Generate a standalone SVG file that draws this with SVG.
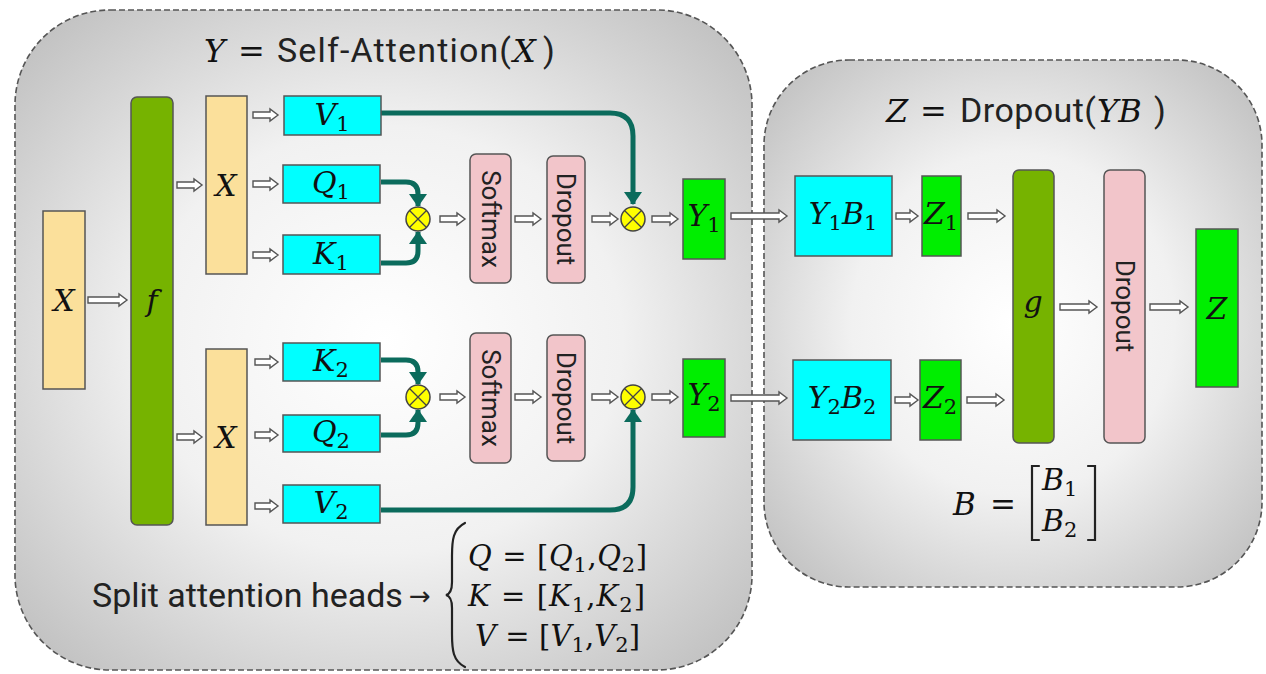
<svg xmlns="http://www.w3.org/2000/svg" width="1266" height="674" viewBox="0 0 1266 674">
  <defs>
    <radialGradient id="panelFill" cx="0.5" cy="0.5" r="0.72">
      <stop offset="0" stop-color="#ffffff"/>
      <stop offset="0.45" stop-color="#f1f1f1"/>
      <stop offset="1" stop-color="#b9b9b9"/>
    </radialGradient>
    <marker id="tealHead" markerUnits="userSpaceOnUse" markerWidth="18" markerHeight="18" refX="12" refY="9" orient="auto">
      <path d="M0,0 L13,9 L0,18 Z" fill="#0b6b5c"/>
    </marker>
    <style>
      .panel { fill: url(#panelFill); stroke: #555; stroke-width: 1.6; stroke-dasharray: 6 3; }
      .tan { fill: #fbe09b; stroke: #555; stroke-width: 1.5; }
      .olive { fill: #76b300; stroke: #555; stroke-width: 1.5; }
      .cyan { fill: #00ffff; stroke: #555; stroke-width: 1.5; }
      .lime { fill: #00ee00; stroke: #555; stroke-width: 1.5; }
      .pink { fill: #f2c5ca; stroke: #555; stroke-width: 1.5; }
      .mul circle { fill: #ffff00; stroke: #444; stroke-width: 1.5; }
      .mul path { stroke: #444; stroke-width: 1.3; fill: none; }
      .ha { fill: #ffffff; stroke: #555; stroke-width: 1.4; stroke-linejoin: miter; }
      .teal { fill: none; stroke: #0b6b5c; stroke-width: 5; marker-end: url(#tealHead); }
      .m { font-family: "DejaVu Serif", "Liberation Serif", serif; font-style: italic; fill: #111; }
      .up { font-style: normal; }
      .sub { font-style: normal; font-size: 21px; }
      .sans { font-family: Roboto, "Liberation Sans", sans-serif; fill: #222; }
      .lbl { font-size: 30px; text-anchor: middle; }
      .vt { font-family: Roboto, "Liberation Sans", sans-serif; font-size: 26px; fill: #222; text-anchor: middle; dominant-baseline: central; }
      .brace { fill: none; stroke: #222; stroke-width: 2.2; stroke-linecap: round; }
    </style>
  </defs>

  <rect width="1266" height="674" fill="#ffffff"/>

  <!-- containers -->
  <g id="panel-self-attention">
    <rect class="panel" x="15" y="10" width="737" height="660" rx="95"/>
    <text y="62" font-size="32"><tspan class="m" x="204">Y</tspan><tspan class="m up" x="238">=</tspan><tspan class="sans" x="277" font-size="34" textLength="234" lengthAdjust="spacing">Self-Attention(</tspan><tspan class="m" x="513">X</tspan><tspan class="sans" x="543" font-size="34">)</tspan></text>
  </g>
  <g id="panel-dropout">
    <rect class="panel" x="764" y="60" width="498" height="527" rx="85"/>
    <text y="122" font-size="32"><tspan class="m" x="886">Z</tspan><tspan class="m up" x="920">=</tspan><tspan class="sans" x="960" font-size="34" textLength="136" lengthAdjust="spacing">Dropout(</tspan><tspan class="m" x="1097">YB</tspan><tspan class="sans" x="1154" font-size="34">)</tspan></text>
  </g>

  <!-- connectors -->
  <g id="connectors">
    <path class="ha" d="M88,297 H119 V294 L127,300 L119,306 V303 H88 Z"/>
    <path class="ha" d="M177,182 H194 V179 L202,185 L194,191 V188 H177 Z"/>
    <path class="ha" d="M177,434 H194 V431 L202,437 L194,443 V440 H177 Z"/>
    <path class="ha" d="M253,112 H270 V109 L278,115 L270,121 V118 H253 Z"/>
    <path class="ha" d="M253,181 H270 V178 L278,184 L270,190 V187 H253 Z"/>
    <path class="ha" d="M253,252 H270 V249 L278,255 L270,261 V258 H253 Z"/>
    <path class="ha" d="M255,359 H270 V356 L278,362 L270,368 V365 H255 Z"/>
    <path class="ha" d="M255,432 H270 V429 L278,435 L270,441 V438 H255 Z"/>
    <path class="ha" d="M255,503 H270 V500 L278,506 L270,512 V509 H255 Z"/>

    <path class="ha" d="M440,216 H457 V213 L465,219 L457,225 V222 H440 Z"/>
    <path class="ha" d="M515,216 H533 V213 L541,219 L533,225 V222 H515 Z"/>
    <path class="ha" d="M592,216 H610 V213 L618,219 L610,225 V222 H592 Z"/>
    <path class="ha" d="M652,216 H670 V213 L678,219 L670,225 V222 H652 Z"/>
    <path class="ha" d="M440,394 H457 V391 L465,397 L457,403 V400 H440 Z"/>
    <path class="ha" d="M515,394 H533 V391 L541,397 L533,403 V400 H515 Z"/>
    <path class="ha" d="M592,394 H610 V391 L618,397 L610,403 V400 H592 Z"/>
    <path class="ha" d="M652,394 H670 V391 L678,397 L670,403 V400 H652 Z"/>

    <path class="ha" d="M731,213 H779 V210 L787,216 L779,222 V219 H731 Z"/>
    <path class="ha" d="M731,395 H779 V392 L787,398 L779,404 V401 H731 Z"/>
    <path class="ha" d="M896,213 H910 V210 L918,216 L910,222 V219 H896 Z"/>
    <path class="ha" d="M968,213 H997 V210 L1005,216 L997,222 V219 H968 Z"/>
    <path class="ha" d="M895,397 H910 V394 L918,400 L910,406 V403 H895 Z"/>
    <path class="ha" d="M967,397 H996 V394 L1004,400 L996,406 V403 H967 Z"/>
    <path class="ha" d="M1060,304 H1089 V301 L1097,307 L1089,313 V310 H1060 Z"/>
    <path class="ha" d="M1150,304 H1180 V301 L1188,307 L1180,313 V310 H1150 Z"/>

    <path class="teal" d="M381,113 H610 Q633,113 633,136 V204"/>
    <path class="teal" d="M381,182 H406 Q418,182 418,194 V206"/>
    <path class="teal" d="M381,263 H406 Q418,263 418,251 V232"/>
    <path class="teal" d="M381,360 H406 Q418,360 418,372 V384"/>
    <path class="teal" d="M381,435 H406 Q418,435 418,423 V410"/>
    <path class="teal" d="M381,510 H610 Q633,510 633,487 V410"/>
  </g>

  <!-- nodes -->
  <g id="node-x-in"><rect class="tan" x="43" y="211" width="42" height="178"/><text class="m lbl" x="64" y="311">X</text></g>
  <g id="node-f"><rect class="olive" x="131" y="97" width="42" height="428" rx="6"/><text class="m lbl" x="152" y="311">f</text></g>
  <g id="node-x-top"><rect class="tan" x="206" y="96" width="41" height="178"/><text class="m lbl" x="226" y="196">X</text></g>
  <g id="node-x-bottom"><rect class="tan" x="206" y="349" width="41" height="176"/><text class="m lbl" x="226" y="448">X</text></g>

  <g id="node-v1"><rect class="cyan" x="284" y="96" width="97" height="39"/><text class="m lbl" x="332" y="125">V<tspan class="sub" dy="6">1</tspan></text></g>
  <g id="node-q1"><rect class="cyan" x="283" y="165" width="97" height="38"/><text class="m lbl" x="331" y="193">Q<tspan class="sub" dy="6">1</tspan></text></g>
  <g id="node-k1"><rect class="cyan" x="283" y="235" width="97" height="39"/><text class="m lbl" x="331" y="264">K<tspan class="sub" dy="6">1</tspan></text></g>
  <g id="node-k2"><rect class="cyan" x="283" y="343" width="97" height="38"/><text class="m lbl" x="331" y="371">K<tspan class="sub" dy="6">2</tspan></text></g>
  <g id="node-q2"><rect class="cyan" x="283" y="415" width="97" height="37"/><text class="m lbl" x="331" y="442">Q<tspan class="sub" dy="6">2</tspan></text></g>
  <g id="node-v2"><rect class="cyan" x="283" y="485" width="97" height="38"/><text class="m lbl" x="331" y="513">V<tspan class="sub" dy="6">2</tspan></text></g>

  <g id="node-mul-qk1" class="mul"><circle cx="418" cy="219" r="12"/><path d="M409.5,210.5 L426.5,227.5 M426.5,210.5 L409.5,227.5"/></g>
  <g id="node-softmax1"><rect class="pink" x="470" y="154" width="41" height="129" rx="6"/><text class="vt" transform="translate(490.5,219) rotate(90)">Softmax</text></g>
  <g id="node-dropout1"><rect class="pink" x="547" y="156" width="38" height="127" rx="6"/><text class="vt" transform="translate(566,219) rotate(90)">Dropout</text></g>
  <g id="node-mul-v1" class="mul"><circle cx="633" cy="219" r="12"/><path d="M624.5,210.5 L641.5,227.5 M641.5,210.5 L624.5,227.5"/></g>
  <g id="node-y1"><rect class="lime" x="683" y="179" width="42" height="80"/><text class="m lbl" x="704" y="226">Y<tspan class="sub" dy="6">1</tspan></text></g>

  <g id="node-mul-qk2" class="mul"><circle cx="418" cy="397" r="12"/><path d="M409.5,388.5 L426.5,405.5 M426.5,388.5 L409.5,405.5"/></g>
  <g id="node-softmax2"><rect class="pink" x="470" y="333" width="41" height="130" rx="6"/><text class="vt" transform="translate(490.5,398) rotate(90)">Softmax</text></g>
  <g id="node-dropout2"><rect class="pink" x="547" y="335" width="38" height="126" rx="6"/><text class="vt" transform="translate(566,398) rotate(90)">Dropout</text></g>
  <g id="node-mul-v2" class="mul"><circle cx="633" cy="397" r="12"/><path d="M624.5,388.5 L641.5,405.5 M641.5,388.5 L624.5,405.5"/></g>
  <g id="node-y2"><rect class="lime" x="683" y="359" width="42" height="78"/><text class="m lbl" x="704" y="405">Y<tspan class="sub" dy="6">2</tspan></text></g>

  <g id="node-y1b1"><rect class="cyan" x="795" y="176" width="97" height="80"/><text class="m lbl" x="843" y="224">Y<tspan class="sub" dy="6">1</tspan><tspan dy="-6">B</tspan><tspan class="sub" dy="6">1</tspan></text></g>
  <g id="node-z1"><rect class="lime" x="922" y="176" width="39" height="80"/><text class="m lbl" x="941" y="224">Z<tspan class="sub" dy="6">1</tspan></text></g>
  <g id="node-y2b2"><rect class="cyan" x="793" y="360" width="98" height="80"/><text class="m lbl" x="842" y="408">Y<tspan class="sub" dy="6">2</tspan><tspan dy="-6">B</tspan><tspan class="sub" dy="6">2</tspan></text></g>
  <g id="node-z2"><rect class="lime" x="920" y="360" width="41" height="80"/><text class="m lbl" x="940" y="408">Z<tspan class="sub" dy="6">2</tspan></text></g>
  <g id="node-g"><rect class="olive" x="1013" y="170" width="41" height="273" rx="6"/><text class="m lbl" x="1033" y="312">g</text></g>
  <g id="node-dropout-out"><rect class="pink" x="1104" y="170" width="41" height="273" rx="6"/><text class="vt" transform="translate(1124.5,306) rotate(90)">Dropout</text></g>
  <g id="node-z"><rect class="lime" x="1196" y="229" width="42" height="158"/><text class="m lbl" x="1217" y="319">Z</text></g>

  <!-- annotations -->
  <g id="note-split">
    <text class="sans" x="92" y="607" font-size="34">Split attention heads<tspan x="409" font-family="DejaVu Sans, sans-serif" font-size="26" dy="-2">→</tspan></text>
    <path class="brace" d="M465,523 C453,529 452,540 452,556 L452,582 C452,590 450,594 446,595 C450,596 452,600 452,608 L452,634 C452,650 453,661 465,667"/>
    <text class="m" x="468" y="566" font-size="29" textLength="179" lengthAdjust="spacing">Q<tspan class="up"> = [</tspan>Q<tspan class="sub" dy="6">1</tspan><tspan class="up" dy="-6">,</tspan>Q<tspan class="sub" dy="6">2</tspan><tspan class="up" dy="-6">]</tspan></text>
    <text class="m" x="468" y="606" font-size="29" textLength="177" lengthAdjust="spacing">K<tspan class="up"> = [</tspan>K<tspan class="sub" dy="6">1</tspan><tspan class="up" dy="-6">,</tspan>K<tspan class="sub" dy="6">2</tspan><tspan class="up" dy="-6">]</tspan></text>
    <text class="m" x="475" y="646" font-size="29" textLength="165" lengthAdjust="spacing">V<tspan class="up"> = [</tspan>V<tspan class="sub" dy="6">1</tspan><tspan class="up" dy="-6">,</tspan>V<tspan class="sub" dy="6">2</tspan><tspan class="up" dy="-6">]</tspan></text>
  </g>
  <g id="note-b">
    <text class="m" y="515" font-size="31"><tspan x="953">B</tspan><tspan class="up" x="990">=</tspan></text>
    <path class="brace" d="M1039,466 H1032 V540 H1039 M1088,466 H1095 V540 H1088"/>
    <text class="m" x="1042" y="490" font-size="30">B<tspan class="sub" dy="6">1</tspan></text>
    <text class="m" x="1042" y="531" font-size="30">B<tspan class="sub" dy="6">2</tspan></text>
  </g>
</svg>
